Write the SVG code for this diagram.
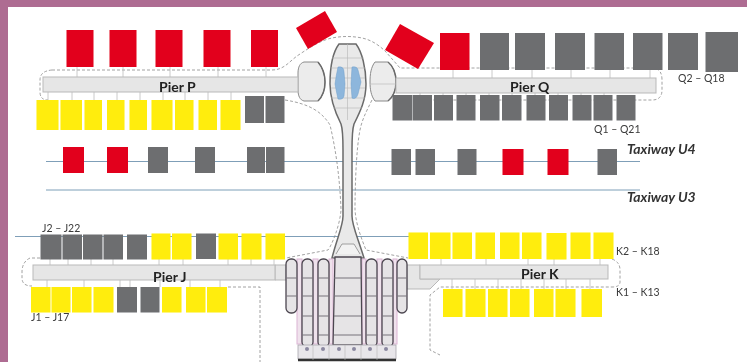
<svg xmlns="http://www.w3.org/2000/svg" width="747" height="362" viewBox="0 0 747 362">
<style>
.r{fill:#e2001a}.g{fill:#6d6e70}.y{fill:#ffed0a}
.pier{fill:#e6e6e6;stroke:#b9b9b9;stroke-width:1}
.dash{fill:none;stroke:#8a8a8a;stroke-width:.8;stroke-dasharray:3 2}
.twy{stroke:#7f9fb8;stroke-width:1;fill:none}
.stub{stroke:#bcbcbc;stroke-width:.8;fill:none}
.hull{fill:#e9e9e9;stroke:#6a6a6a;stroke-width:1.5}
.lobe{fill:#ececec;stroke:#8a8a8a;stroke-width:1}
.edge{fill:none;stroke:#6a6a6a;stroke-width:1.500}
.pill{fill:#e6e4e6;stroke:#4c4650;stroke-width:1.300}
.halo{fill:#efe2ec;stroke:#dcb4d4;stroke-width:1}
.grid{stroke:#b5b5b5;stroke-width:.6;fill:none}
.rib{stroke:#77727a;stroke-width:1;fill:none}
.blue{fill:#8db6dc;stroke:#6f9fcb;stroke-width:.5}
.dot{fill:#8b88a0}
text{font-family:"Lato","Liberation Sans",sans-serif;fill:#3a3a3a}
.pl{font-size:14px;font-weight:700;fill:#222}
.gl{font-size:10.500px}
.tw{font-size:14px;font-weight:700;font-style:italic;fill:#333}
</style>
<filter id="soft" x="0" y="0" width="100%" height="100%"><feGaussianBlur stdDeviation="0.4"/></filter>
<rect width="747" height="362" fill="#fff"/>
<path d="M0 0H747V7H8V362H0Z" fill="#ae6c92"/>
<g filter="url(#soft)">
<g id="taxiways">
<path class="twy" d="M46 161.500H640"/>
<path class="twy" d="M46 190H640"/>
<path class="twy" d="M15 236.500H410"/>
</g>

<g id="outlines">
<path class="dash" d="M52 70H272C285 70 290 60 300 54C312 46 322 40 332 38C342 36 352 36 362 38C372 40 380 46 386 52L400 68H655Q662 70 662 80V90Q662 100 652 100H392"/>
<path class="dash" d="M52 70Q40 71 40 80V92Q40 100 48 100"/>
<path class="dash" d="M285 100C310 104 322 112 330 125C336 150 340 180 341 210C340 225 332 245 328 250L286 258"/>
<path class="dash" d="M372 100C366 112 362 120 360 130C356 150 355 190 355 210C356 225 362 240 366 250L408 258"/>
<path class="dash" d="M40 258H30Q22 262 22 272V278Q22 286 32 286"/>
<path class="dash" d="M228 287H260V362"/>
<path class="dash" d="M612 259Q620 262 620 270V282Q620 287 612 287H440L430 295V350L440 355"/>
</g>

<g id="terminal-north">
<path class="hull" d="M330 84C330 68 333 52 339 44H356C362 52 366 68 366 84C366 100 360 112 354 124C352 130 352 136 352 150V216C352 226 358 238 364 258H332C337 238 343 226 343 216V150C343 136 343 130 341 124C335 112 330 100 330 84Z"/>
<path class="lobe" d="M304 62H318C323 68 325 75 325 82C325 89 323 96 318 101H304C300 100 298 96 298 90V73C298 67 300 63 304 62Z"/>
<path class="edge" d="M318 62C323 68 325 75 325 82C325 89 323 96 318 101"/>
<path class="lobe" d="M375 62H388C393 66 396 74 396 82C396 90 393 97 388 101H375C371 96 370 89 370 82C370 74 371 67 375 62Z"/>
<path class="edge" d="M388 62C393 66 396 74 396 82C396 90 393 97 388 101"/>
<path class="grid" d="M347.500 44V120M332 58H364M331 68H365M331 78H365M331 88H365M331 98H365M333 108H362M370 84H396"/>
<path class="blue" d="M338 67Q344 66 344 72L345 84L344 96Q343 100 338 99Q336 90 335 84Q336 76 338 67Z"/>
<path class="blue" d="M352 67Q357 66 358 70L361 82L358 94Q356 100 352 98L351 84Z"/>
<path d="M336 254L342 244H354L360 254" fill="#f2f2f2" stroke="#8a8a8a" stroke-width=".8"/>
</g>

<g id="terminal-south">
<path class="pier" d="M275 265H286V280H275Z"/>
<path class="pier" d="M407 265H420V279H440L430 289H407Z"/>
<rect class="halo" x="297" y="259" width="5" height="85"/>
<rect class="halo" x="313" y="259" width="5" height="85"/>
<rect class="halo" x="329" y="259" width="4" height="85"/>
<rect class="halo" x="362" y="259" width="4" height="85"/>
<rect class="halo" x="377" y="259" width="5" height="85"/>
<rect class="halo" x="393" y="259" width="4" height="85"/>
<rect class="pill" x="286" y="259" width="11" height="54" rx="5"/>
<rect class="pill" x="302" y="259" width="11" height="88" rx="5"/>
<rect class="pill" x="318" y="259" width="11" height="88" rx="5"/>
<path class="pill" d="M335 257H361L362 345H333Z"/>
<rect class="pill" x="366" y="259" width="11" height="88" rx="5"/>
<rect class="pill" x="382" y="259" width="11" height="88" rx="5"/>
<rect class="pill" x="397" y="259" width="10" height="54" rx="5"/>
<path class="rib" d="M286 278H297M286 296H297M302 278H313M302 296H313M302 316H313M302 335H313M318 278H329M318 296H329M318 316H329M318 335H329M334 278H361M334 296H361M334 316H361M334 335H361M366 278H377M366 296H377M366 316H377M366 335H377M382 278H393M382 296H393M382 316H393M382 335H393M397 278H407M397 296H407"/>
<rect x="298" y="345" width="98" height="14" fill="#e8e6ea" stroke="#a9a5ad" stroke-width=".8"/>
<path d="M298 360H396" stroke="#333" stroke-width="2.500"/>
<path class="grid" d="M313 345V360M329 345V360M345 345V360M361 345V360M377 345V360"/>
<g class="dot"><circle cx="307" cy="349" r="2"/><circle cx="323" cy="349" r="2"/><circle cx="339" cy="349" r="2"/><circle cx="354" cy="349" r="2"/><circle cx="370" cy="349" r="2"/><circle cx="386" cy="349" r="2"/></g>
</g>

<g id="pier-p">
<rect class="pier" x="43" y="77" width="255" height="15"/>
<path class="stub" d="M77 67V77M123 67V77M170 67V77M218 67V77M266 67V77M48 92V100M72 92V100M94 92V100M117 92V100M140 92V100M163 92V100M185 92V100M208 92V100M231 92V100"/>
<text class="pl" x="159" y="92">Pier P</text>
</g>
<g id="pier-q">
<rect class="pier" x="396" y="78" width="260" height="15"/>
<path class="stub" d="M453 70V78M492 70V78M532 70V78M571 70V78M610 70V78M650 70V78M420 93V96M443 93V96M466 93V96M489 93V96M512 93V96M535 93V96M558 93V96M581 93V96M604 93V96"/>
<text class="pl" x="510" y="92">Pier Q</text>
</g>
<g id="pier-j">
<rect class="pier" x="33" y="265" width="242" height="15"/>
<path class="stub" d="M50 259V265M68 259V265M91 259V265M113 259V265M159 259V265M183 259V265M228 259V265M251 259V265M274 259V265M47 280V287M84 280V287M120 280V287M130 280V287M160 280V287M190 280V287M220 280V287"/>
<text class="pl" x="153" y="282">Pier J</text>
</g>
<g id="pier-k">
<rect class="pier" x="420" y="265" width="188" height="14"/>
<path class="stub" d="M441 259V265M486 259V265M528 259V265M554 259V265M600 259V265M452 279V289M475 279V289M498 279V289M521 279V289M544 279V289M566 279V289M590 279V289"/>
<text class="pl" x="521" y="279">Pier K</text>
</g>

<g id="stands-p-north" class="r">
<rect x="66.500" y="30" width="27" height="37"/><rect x="109.500" y="30" width="27" height="37"/><rect x="155.500" y="30" width="27" height="37"/><rect x="203.500" y="30" width="27" height="37"/><rect x="251" y="30" width="27" height="37"/>
<path d="M296 28L325 11L337 32L308 49Z"/>
</g>
<g id="stands-q-north">
<path class="r" d="M400 24L434 43L418 69L385 50Z"/>
<rect class="r" x="440" y="33" width="29.500" height="37"/>
<g class="g"><rect x="480" y="33" width="29" height="37"/><rect x="515" y="33" width="30" height="37"/><rect x="555" y="33" width="30" height="37"/><rect x="594.500" y="33" width="29.500" height="37"/><rect x="633" y="33" width="29.500" height="37"/><rect x="668" y="33" width="30" height="37"/><rect x="705.500" y="32" width="32.500" height="40"/></g>
</g>
<g id="stands-p-south">
<g class="y"><rect x="36.500" y="100" width="22" height="30"/><rect x="60.500" y="100" width="21.500" height="30"/><rect x="84.500" y="100" width="17.500" height="30"/><rect x="107" y="100" width="17.500" height="30"/><rect x="129.500" y="100" width="17.500" height="30"/><rect x="151.500" y="100" width="21" height="30"/><rect x="175" y="100" width="18.500" height="30"/><rect x="198.500" y="100" width="18.500" height="30"/><rect x="220.500" y="100" width="20" height="30"/></g>
<g class="g"><rect x="245" y="96" width="19" height="27"/><rect x="265.500" y="96" width="19" height="27"/></g>
</g>
<g id="stands-q-south" class="g">
<rect x="392.500" y="95" width="19.500" height="25.500"/><rect x="412.500" y="95" width="19.500" height="25.500"/><rect x="434" y="95" width="19" height="25.500"/><rect x="456.500" y="95" width="19" height="25.500"/><rect x="480" y="95" width="19.500" height="25.500"/><rect x="502" y="95" width="19.500" height="25.500"/><rect x="526.500" y="95" width="19" height="25.500"/><rect x="549" y="95" width="19" height="25.500"/><rect x="572.500" y="95" width="19" height="25.500"/><rect x="593.500" y="95" width="19" height="25.500"/><rect x="616.500" y="95" width="19" height="25.500"/>
</g>
<g id="stands-u4">
<rect class="r" x="63" y="147" width="21" height="26"/><rect class="r" x="107" y="147" width="21" height="26"/>
<g class="g"><rect x="148" y="147" width="20" height="26"/><rect x="195" y="147" width="20" height="26"/><rect x="247" y="147" width="18" height="26"/><rect x="266" y="147" width="18.500" height="26"/>
<rect x="391.500" y="149" width="19.500" height="26"/><rect x="415.500" y="149" width="19.500" height="26"/><rect x="457.500" y="149" width="19" height="26"/><rect x="597.500" y="149" width="19.500" height="26"/></g>
<rect class="r" x="502.500" y="149" width="21" height="26"/><rect class="r" x="547.500" y="149" width="21" height="26"/>
</g>
<g id="stands-j-north">
<g class="g"><rect x="40.500" y="234.500" width="21" height="25"/><rect x="62.500" y="234.500" width="19.500" height="25"/><rect x="83" y="234.500" width="19.500" height="25"/><rect x="103.500" y="234.500" width="19.500" height="25"/><rect x="127" y="234.500" width="20" height="25"/><rect x="196" y="233.500" width="20" height="25.500"/></g>
<g class="y"><rect x="151.500" y="233.500" width="19" height="26"/><rect x="172" y="233.500" width="19.500" height="26"/><rect x="218.500" y="233.500" width="19.500" height="26"/><rect x="241.500" y="233.500" width="20" height="26"/><rect x="265.500" y="233.500" width="19.500" height="26"/></g>
</g>
<g id="stands-j-south">
<g class="y"><rect x="31" y="287" width="19.500" height="25.500"/><rect x="51.500" y="287" width="19" height="25.500"/><rect x="72" y="287" width="19.500" height="25.500"/><rect x="93.500" y="287" width="20" height="25.500"/><rect x="162" y="287" width="19.500" height="25.500"/><rect x="186" y="287" width="19.500" height="25.500"/><rect x="207" y="287" width="20" height="25.500"/></g>
<g class="g"><rect x="117" y="287" width="20" height="25.500"/><rect x="140.500" y="287" width="19" height="25.500"/></g>
</g>
<g id="stands-k-north" class="y">
<rect x="408.500" y="232.500" width="19.500" height="26.500"/><rect x="430" y="232.500" width="20.500" height="26.500"/><rect x="452.500" y="232.500" width="19.500" height="26.500"/><rect x="475.500" y="232.500" width="19.500" height="26.500"/><rect x="500" y="232.500" width="19.500" height="26.500"/><rect x="522" y="232.500" width="19.500" height="26.500"/><rect x="546.500" y="233" width="20" height="26.500"/><rect x="570.500" y="232.500" width="20" height="26.500"/><rect x="593.500" y="232.500" width="20" height="26.500"/>
</g>
<g id="stands-k-south" class="y">
<rect x="443" y="289" width="19.500" height="28"/><rect x="465.500" y="289" width="20" height="28"/><rect x="488" y="289" width="19.500" height="28"/><rect x="510" y="289" width="19.500" height="28"/><rect x="534" y="289" width="19.500" height="28"/><rect x="555.500" y="289" width="20" height="28"/><rect x="581.500" y="289" width="20.500" height="28"/>
</g>

<g id="labels">
<text class="gl" x="678" y="82">Q2 – Q18</text>
<text class="gl" x="594" y="133">Q1 – Q21</text>
<text class="tw" x="627" y="154">Taxiway U4</text>
<text class="tw" x="627" y="202">Taxiway U3</text>
<text class="gl" x="42" y="232">J2 – J22</text>
<text class="gl" x="31" y="321">J1 – J17</text>
<text class="gl" x="616" y="255">K2 – K18</text>
<text class="gl" x="616" y="296">K1 – K13</text>
</g>
</g>
</svg>
